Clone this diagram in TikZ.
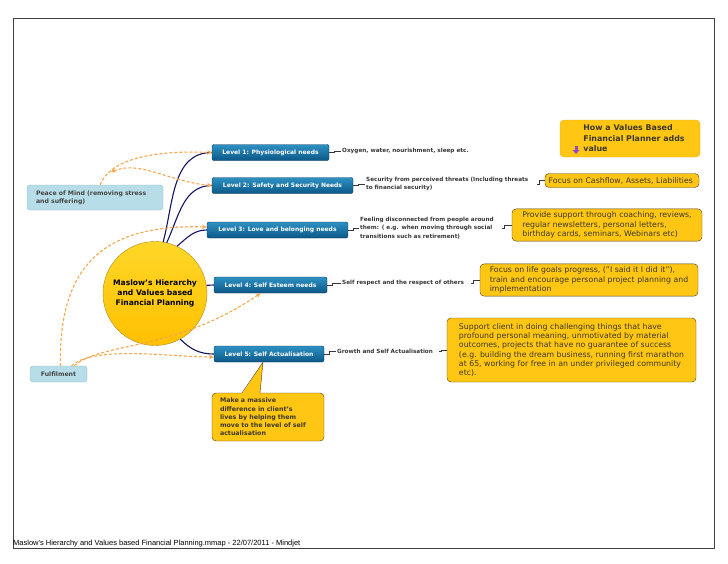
\documentclass[tikz,border=0pt]{standalone}
\usepackage{fontspec}
\setmainfont{DejaVu Sans}
\newfontfamily\footfont{Liberation Sans}
\usetikzlibrary{positioning}

\definecolor{lvltop}{RGB}{45,145,195}
\definecolor{lvlbot}{RGB}{12,88,135}
\definecolor{lvlline}{RGB}{10,50,85}
\definecolor{goalfill}{RGB}{255,199,20}
\definecolor{goalline}{RGB}{80,60,20}
\definecolor{goaltext}{RGB}{60,55,40}
\definecolor{headline}{RGB}{235,175,40}
\definecolor{moodfill}{RGB}{183,222,232}
\definecolor{moodline}{RGB}{140,190,205}
\definecolor{moodtext}{RGB}{70,70,70}
\definecolor{leaftext}{RGB}{55,55,55}
\definecolor{linknavy}{RGB}{20,20,100}
\definecolor{relorange}{RGB}{245,165,75}
\definecolor{hubtop}{RGB}{255,215,40}
\definecolor{hubbot}{RGB}{255,192,0}
\definecolor{hubline}{RGB}{175,140,30}
\definecolor{iconpurple}{RGB}{150,70,200}

\begin{document}
\begin{tikzpicture}
    [x=1pt, y=-1pt,
     lvl/.style={draw=lvlline, rounded corners=2pt, top color=lvltop, bottom color=lvlbot,
                 text=white, font=\bfseries\fontsize{6}{7}\selectfont, minimum height=16pt, inner sep=2pt},
     leaf/.style={anchor=west, align=left, text=leaftext, inner sep=1pt,
                  font=\bfseries\fontsize{5.7}{8.5}\selectfont},
     goal/.style={draw=goalline, rounded corners=4pt, fill=goalfill, align=left, text=goaltext,
                  font=\fontsize{7.8}{9.3}\selectfont, inner sep=3pt},
     mood/.style={draw=moodline, rounded corners=3pt, fill=moodfill, align=left, text=moodtext,
                  font=\bfseries\fontsize{6.2}{8}\selectfont},
     link/.style={draw=linknavy, line width=1.1pt},
     tie/.style={draw=leaftext, line width=0.6pt},
     rel/.style={draw=relorange, line width=1.1pt, dash pattern=on 3pt off 2pt, >=stealth, ->},
    ]
    \useasboundingbox (0,0) rectangle (728,563);
    \draw [black!75, line width=0.8pt] (13,18) rectangle (714,548);

    % central topic
    \node (hub) [circle, draw=hubline, top color=hubtop, bottom color=hubbot, minimum size=104pt,
                 align=center, font=\bfseries\fontsize{7.6}{9.8}\selectfont] at (155,293.5) {
        Maslow's Hierarchy\\
        and Values based\\
        Financial Planning
    };

    % the five levels
    \node (l1) [lvl, minimum width=117pt] at (270.5,152.5) {Level 1: Physiological needs};
    \node (l2) [lvl, minimum width=141pt] at (282.5,185.5) {Level 2: Safety and Security Needs};
    \node (l3) [lvl, minimum width=141pt] at (277.5,230) {Level 3: Love and belonging needs};
    \node (l4) [lvl, minimum width=113pt] at (270.5,285) {Level 4: Self Esteem needs};
    \node (l5) [lvl, minimum width=110pt] at (269,354) {Level 5: Self Actualisation};

    % what each level means
    \node (t1) [leaf] at (341,151) {Oxygen, water, nourishment, sleep etc.};
    \node (t2) [leaf, text width=170pt] at (365,184) {
        Security from perceived threats (Including threats\\
        to financial security)
    };
    \node (t3) [leaf, text width=141pt] at (359,228) {
        Feeling disconnected from people around\\
        them: ( e.g. when moving through social\\
        transitions such as retirement)
    };
    \node (t4) [leaf, text width=128pt] at (341,283) {Self respect and the respect of others};
    \node (t5) [leaf, text width=101pt] at (336,351) {Growth and Self Actualisation};

    % planner adds value
    \node (head) [goal, draw=headline, minimum width=140pt, minimum height=37pt,
                  font=\bfseries\fontsize{7.9}{10.5}\selectfont] at (630,138.5) {
        \hspace*{8pt}How a Values Based\\
        \hspace*{8pt}Financial Planner adds\\
        \hspace*{8pt}value
    };
    \fill [iconpurple] (574.5,146) rectangle (577.5,150.5);
    \fill [iconpurple] (572.5,150) -- (579.5,150) -- (576,154) -- cycle;

    \node (g2) [goal, minimum width=154pt, minimum height=14pt, inner sep=1.5pt] at (622,180.5) {
        Focus on Cashflow, Assets, Liabilities
    };
    \node (g3) [goal, minimum width=190pt, minimum height=32pt] at (607,225) {
        Provide support through coaching, reviews,\\
        regular newsletters, personal letters,\\
        birthday cards, seminars, Webinars etc)
    };
    \node (g4) [goal, minimum width=218pt, minimum height=32pt] at (589,280) {
        Focus on life goals progress, ("I said it I did it"),\\
        train and encourage personal project planning and\\
        implementation
    };
    \node (g5) [goal, minimum width=249pt, minimum height=64pt] at (571.5,350) {
        Support client in doing challenging things that have\\
        profound personal meaning, unmotivated by material\\
        outcomes, projects that have no guarantee of success\\
        (e.g. building the dream business, running first marathon\\
        at 65, working for free in an under privileged community\\
        etc).
    };

    % callout
    \node (call) [goal, minimum width=112pt, minimum height=48pt, text width=96pt,
                  font=\bfseries\fontsize{6.3}{8.2}\selectfont] at (268,417) {
        Make a massive\\
        difference in client's\\
        lives by helping them\\
        move to the level of self\\
        actualisation
    };
    \fill [goalfill] ([xshift=-26pt,yshift=-1pt]call.north) -- ([xshift=-6pt]l5.south)
        -- ([xshift=-8pt,yshift=-1pt]call.north) -- cycle;
    \draw [goalline, line width=0.4pt] ([xshift=-26pt]call.north) -- ([xshift=-6pt]l5.south)
        -- ([xshift=-8pt]call.north);

    % outcomes
    \node (peace) [mood, minimum width=136pt, minimum height=25pt, text width=118pt] at (95,197.5) {
        Peace of Mind (removing stress\\
        and suffering)
    };
    \node (fulfil) [mood, minimum width=57pt, minimum height=16pt] at (58.5,374) {Fulfilment};

    \node (foot) [anchor=base west, inner sep=0pt, font=\footfont\fontsize{7.5}{8}\selectfont] at (13,545.5) {
        Maslow's Hierarchy and Values based Financial Planning.mmap - 22/07/2011 - Mindjet
    };

    \draw [link] (hub.81) to[out=75, in=180] (l1.west);
    \draw [link] (hub.77) to[out=65, in=180] (l2.west);
    \draw [link] (hub.65) to[out=40, in=180] (l3.west);
    \draw [link] (hub.9) -- (l4.west);
    \draw [link] (hub.-61) to[out=-45, in=180] (l5.west);

    \draw [tie] (l1.east) -- ++(5,0) |- (t1.west);
    \draw [tie] (l2.east) -- ++(5,0) |- (t2.west);
    \draw [tie] (l3.east) -- ++(5,0) |- (t3.west);
    \draw [tie] (l4.east) -- ++(5,0) |- (t4.west);
    \draw [tie] (l5.east) -- ++(5,0) |- (t5.west);

    \draw [tie] (t2.east) -- ++(2,0) |- (g2.west);
    \draw [tie] (t3.east) -- ++(2,0) |- (g3.west);
    \draw [tie] (t4.east) -- ++(2,0) |- (g4.west);
    \draw [tie] (t5.east) -- ++(2,0) |- (g5.west);

    \coordinate (calm) at (111,172);
    \draw [rel] ([xshift=5pt]peace.north) .. controls (110,160) and (150,150) .. (l1.west);
    \draw [rel, <->] (calm) .. controls (140,160) and (170,182) .. (l2.west);
    \draw [rel] ([xshift=2pt]fulfil.north) .. controls (58,260) and (110,224) .. ([yshift=3pt]l3.west);
    \draw [rel] ([xshift=13pt]fulfil.north) .. controls (95,345) and (170,357) .. ([yshift=-3pt]l5.west);
    \draw [rel] ([xshift=16pt]fulfil.north) .. controls (100,342) and (175,352) .. ([xshift=-10pt]l4.south);

\end{tikzpicture}
\end{document}
